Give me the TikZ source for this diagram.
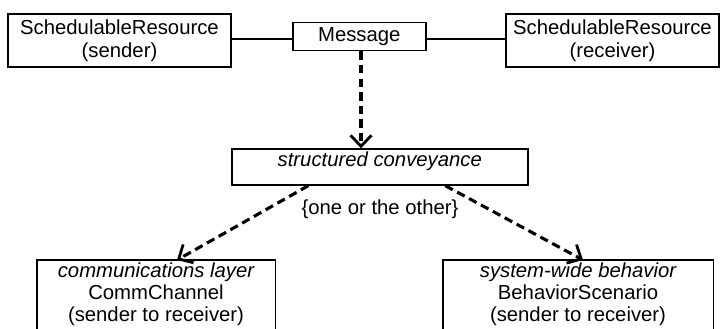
\documentclass[tikz,border=0pt]{standalone}
\usepackage{fontspec}
\setmainfont{Liberation Sans}
\usetikzlibrary{arrows.meta}
\begin{document}
\begin{tikzpicture}[x=1pt,y=-1pt,
  box/.style={draw,line width=1.4pt,rectangle,inner sep=0pt,align=center,
    font=\fontsize{20.3}{23}\selectfont},
  lowbox/.style={rectangle,inner sep=0pt,align=center,anchor=north,inner ysep=3pt,
    minimum height=68pt,font=\fontsize{20.3}{22}\selectfont},
  dep/.style={line width=3.1pt,dash pattern=on 8.5pt off 5pt,
    -{Straight Barb[length=11pt,width=21pt,line width=2.8pt]}},
  link/.style={line width=1.4pt}]
\useasboundingbox (0,0) rectangle (720,329);
\clip (0,0) rectangle (720,329);
\node[box,minimum width=223pt,minimum height=53pt] (sender) at (119.5,40.5)
  {SchedulableResource\\(sender)};
\node[box,minimum width=133pt,minimum height=28pt] (msg) at (359.3,36.8) {Message};
\node[box,minimum width=213pt,minimum height=53pt] (receiver) at (612.5,40.5)
  {SchedulableResource\\(receiver)};
\node[box,minimum width=296pt,minimum height=36pt,text height=14.5pt,text depth=15pt]
  (conv) at (379.8,167) {\itshape structured conveyance};
\node[anchor=base,inner sep=0pt,font=\fontsize{20.3}{23}\selectfont] (note) at (380,214.5)
  {\{one or the other\}};
\node[lowbox,minimum width=238pt] (comm) at (156,260)
  {\itshape communications layer\\CommChannel\\(sender to receiver)};
\node[lowbox,minimum width=270pt] (behav) at (578,260)
  {\itshape system-wide behavior\\BehaviorScenario\\(sender to receiver)};
\draw[link] ([yshift=-6pt]comm.south west) -- (comm.north west) -- (comm.north east) -- ([yshift=-6pt]comm.south east);
\draw[link] ([yshift=-6pt]behav.south west) -- (behav.north west) -- (behav.north east) -- ([yshift=-6pt]behav.south east);
\draw[link] (sender.east |- 0,39) -- (msg.west |- 0,39);
\draw[link] (msg.east |- 0,39) -- (receiver.west |- 0,39);
\draw[dep] ([xshift=1.7pt]msg.south) -- ([xshift=1.7pt]msg.south |- conv.north);
\draw[dep] ([xshift=-71.5pt]conv.south) -- ([xshift=21pt]comm.north);
\draw[dep] ([xshift=65.5pt]conv.south) -- ([xshift=5pt]behav.north);
\end{tikzpicture}
\end{document}
